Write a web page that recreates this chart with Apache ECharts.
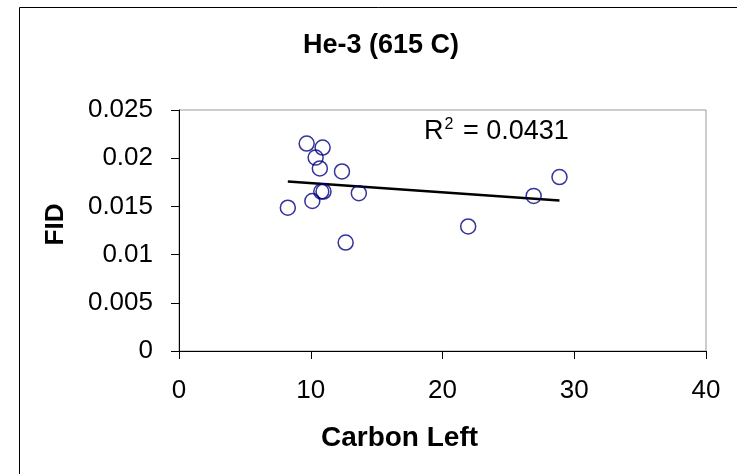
<!DOCTYPE html>
<html><head><meta charset="utf-8">
<script src="https://cdn.jsdelivr.net/npm/echarts@6/dist/echarts.min.js"></script>
<style>html,body{margin:0;padding:0;background:#fff}#c{width:737px;height:474px}</style>
</head><body><div id="c"></div>
<script>
var carbonLeft = [9.69, 10.90, 10.37, 10.69, 12.37, 28.88, 26.92, 10.80, 10.97, 13.65, 10.12, 8.26, 21.95, 12.65];
var fid = [0.02152, 0.0211, 0.02006, 0.01894, 0.01863, 0.01804, 0.01609, 0.01654, 0.01654, 0.01637, 0.01556, 0.01487, 0.01292, 0.01125];
var trendX = [8.26, 28.88];
var trendY = [0.01758, 0.0156];
var xTicks = [0, 10, 20, 30, 40];
var yTicks = [0, 0.005, 0.01, 0.015, 0.02, 0.025];

var pts = carbonLeft.map(function(x, i){ return [x, fid[i]]; });
var trend = trendX.map(function(x, i){ return [x, trendY[i]]; });
var font = 'Liberation Sans, Arial, sans-serif';
var chart = echarts.init(document.getElementById('c'), null, {renderer:'canvas'});
chart.setOption({
  backgroundColor: '#fff',
  animation: false,
  title: {text: 'He-3 (615 C)', left: 376, top: 27, textAlign: 'center',
    textStyle: {fontFamily: font, fontWeight: 'bold', fontSize: 27, color: '#000'}},
  grid: {left: 179, top: 110, width: 527, height: 241, show: true, borderColor: '#999', borderWidth: 1, backgroundColor: '#fff'},
  xAxis: {type: 'value', min: xTicks[0], max: xTicks[xTicks.length-1], interval: 10,
    name: 'Carbon Left', nameLocation: 'middle', nameGap: 73,
    nameTextStyle: {fontFamily: font, fontWeight: 'bold', fontSize: 28, color: '#000', padding: [0, 86, 0, 0]},
    axisLine: {lineStyle: {color: '#000', width: 1}},
    axisTick: {show: true, length: 8, inside: false, lineStyle: {color: '#000'}},
    axisLabel: {fontFamily: font, fontSize: 26, color: '#000', margin: 27},
    splitLine: {show: false}},
  yAxis: {type: 'value', min: yTicks[0], max: yTicks[yTicks.length-1], interval: 0.005,
    name: 'FID', nameLocation: 'middle', nameGap: 110, nameRotate: 90,
    nameTextStyle: {fontFamily: font, fontWeight: 'bold', fontSize: 26, color: '#000', padding: [0, 0, 0, 12]},
    axisLine: {show: true, lineStyle: {color: '#000', width: 1}},
    axisTick: {show: true, length: 8, lineStyle: {color: '#000'}},
    axisLabel: {fontFamily: font, fontSize: 26, color: '#000', margin: 26,
      formatter: function(v){ return String(+v.toFixed(3)); }},
    splitLine: {show: false}},
  series: [
    {type: 'line', data: trend, symbol: 'none', lineStyle: {color: '#000', width: 2.5}, z: 3},
    {type: 'scatter', data: pts, symbol: 'circle', symbolSize: 15,
      itemStyle: {color: 'rgba(0,0,0,0)', borderColor: '#000080', borderWidth: 1.5}, z: 4}
  ],
  graphic: [
    {type: 'rect', shape: {x: 19.5, y: 7.5, width: 800, height: 500}, style: {fill: null, stroke: '#000', lineWidth: 1}, z: -1, silent: true},
    {type: 'text', left: 424, top: 117, style: {
      text: '{b|R}{s|2}{b| = 0.0431}',
      rich: {b: {fontFamily: font, fontSize: 27, fill: '#000', color: '#000', verticalAlign: 'bottom'},
             s: {fontFamily: font, fontSize: 16, fill: '#000', color: '#000', verticalAlign: 'top', padding: [0,2,12,1]}}
    }, z: 10}
  ]
});
</script></body></html>
